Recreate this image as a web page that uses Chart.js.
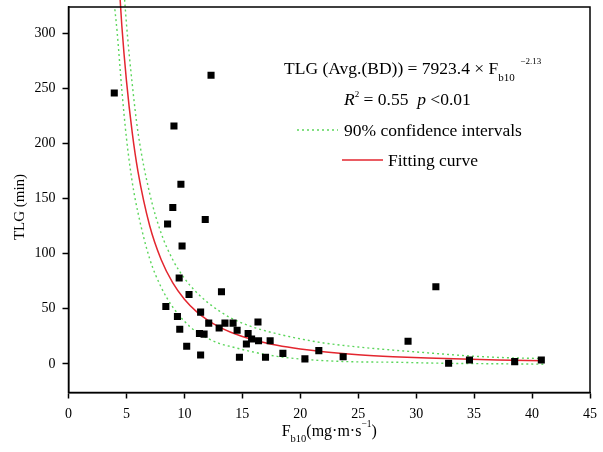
<!DOCTYPE html>
<html>
<head>
<meta charset="utf-8">
<script src="https://cdn.jsdelivr.net/npm/chart.js@4"></script>
<style>
  html, body { margin:0; padding:0; background:#fff; }
  #wrap { width:603px; height:452px; position:relative; }
</style>
</head>
<body>
<div id="wrap"><canvas id="chart"></canvas></div>
<script>
(function(){

  // measured points: F_b10 (mg·m·s^-1) vs TLG (min)
  const fbX = [3.95, 12.3, 9.1, 9.7, 9.0, 8.55, 11.8, 9.8, 9.55, 10.4, 13.2, 8.4, 11.4, 9.4, 12.1, 13.5, 14.2, 13.0, 14.55, 9.6, 11.3, 11.7, 10.2, 11.4, 14.75, 16.35, 15.5, 15.8, 15.35, 16.4, 17.4, 17.0, 18.5, 20.4, 21.6, 23.7, 29.3, 31.7, 32.8, 34.6, 38.5, 40.8];
  const tlgY = [246, 262, 216, 163, 142, 127, 131, 107, 78, 63, 65.5, 52, 47, 43, 37, 37, 37, 32.5, 30.5, 31.5, 27.5, 27, 16, 8, 6, 38, 27.5, 22.5, 18, 21, 21, 6, 9.5, 4.5, 12, 6.5, 20.5, 70, 0.5, 3.5, 2, 3.5];

  // fitting curve and 90% confidence band, read along the x axis
  const curveX = [4.0, 4.2, 4.6, 5, 5.5, 6, 7, 8, 9, 10, 11, 12, 13, 14, 16, 18, 20, 22, 25, 28, 31, 34, 37, 41];
  const fitY   = [413.6, 372.7, 307.2, 257.1, 209.9, 174.3, 125.6, 94.5, 73.5, 58.7, 47.9, 39.8, 33.6, 28.7, 21.6, 16.8, 13.4, 10.95, 8.34, 6.55, 5.28, 4.33, 3.62, 2.91];
  const upperY = [494, 447, 369, 309, 254, 210, 155, 118.5, 94.5, 77.7, 65.4, 55.8, 48.1, 41.7, 33.1, 27.3, 22.7, 19, 15.3, 12.5, 10, 7.6, 5.9, 4.8];
  const lowerY = [322, 301, 249, 205, 165, 137, 95.6, 69.5, 51.5, 38.7, 29.4, 23.3, 18.6, 15.7, 10.6, 6.8, 4.4, 2.9, 1.8, 1.5, 0.8, 0.3, 0.1, -0.3];

  const xTicks = [0, 5, 10, 15, 20, 25, 30, 35, 40, 45];
  const yTicks = [0, 50, 100, 150, 200, 250, 300];

  const SERIF = '"Liberation Serif", "Times New Roman", serif';
  const RED = '#e3262f';
  const GREEN = '#5cd65c';

  const pts = (xs, ys) => xs.map((x, i) => ({ x: x, y: ys[i] }));

  // draws a run of text pieces: [text, size, dy, italic]
  function drawRun(ctx, x, y, parts){
    parts.forEach(p => {
      ctx.font = (p[3] ? 'italic ' : '') + p[1] + 'px ' + SERIF;
      ctx.fillText(p[0], x, y + p[2]);
      x += ctx.measureText(p[0]).width;
    });
    return x;
  }

  const annot = {
    id:'annot',
    afterDraw(chart){
      const ctx = chart.ctx;
      const a = chart.chartArea;
      ctx.save();
      ctx.strokeStyle = '#000';
      ctx.lineWidth = 1.5;
      ctx.strokeRect(a.left, a.top, a.right - a.left, a.bottom - a.top);

      ctx.fillStyle = '#000';
      ctx.textBaseline = 'alphabetic';
      ctx.textAlign = 'left';

      // equation
      drawRun(ctx, 284, 74, [
        ['TLG (Avg.(BD)) = 7923.4 \u00d7 F', 17.5, 0],
        ['b10', 11, 7],
        ['  ', 11, 0],
        ['\u22122.13', 9, -10]
      ]);
      drawRun(ctx, 344, 105, [
        ['R', 17.5, 0, true],
        ['2', 9, -8],
        [' = 0.55  ', 17.5, 0],
        ['p', 17.5, 0, true],
        [' <0.01', 17.5, 0]
      ]);

      // legend samples
      ctx.strokeStyle = GREEN;
      ctx.lineWidth = 1.4;
      ctx.setLineDash([2, 3]);
      ctx.beginPath(); ctx.moveTo(297, 130); ctx.lineTo(338, 130); ctx.stroke();
      ctx.setLineDash([]);
      ctx.strokeStyle = RED;
      ctx.beginPath(); ctx.moveTo(342, 160); ctx.lineTo(383, 160); ctx.stroke();
      drawRun(ctx, 344, 136, [['90% confidence intervals', 17.5, 0]]);
      drawRun(ctx, 388, 166, [['Fitting curve', 17.5, 0]]);

      // x title with sub/superscript
      const parts = [['F', 16, 0], ['b10', 10.5, 6], ['(mg\u00b7m\u00b7s', 16, 0], ['\u22121', 9.5, -9], [')', 16, 0]];
      let w = 0;
      parts.forEach(p => { ctx.font = p[1] + 'px ' + SERIF; w += ctx.measureText(p[0]).width; });
      drawRun(ctx, (a.left + a.right) / 2 - w / 2, 436, parts);

      // y title
      ctx.translate(20, 207);
      ctx.rotate(-Math.PI / 2);
      ctx.textAlign = 'center';
      ctx.textBaseline = 'middle';
      ctx.font = '15px ' + SERIF;
      ctx.fillText('TLG (min)', 0, 0);
      ctx.restore();
    }
  };

  const lineDs = (label, ys, color, dash) => ({
    type:'line',
    label: label,
    data: pts(curveX, ys),
    borderColor: color,
    borderWidth: dash ? 1.4 : 1.5,
    borderDash: dash || [],
    pointRadius: 0,
    fill: false,
    cubicInterpolationMode: 'monotone',
    clip: false
  });

  new Chart(document.getElementById('chart'), {
    type:'scatter',
    data:{
      datasets:[{
        label:'TLG',
        data: pts(fbX, tlgY),
        pointStyle:'rect',
        pointRadius: 5,
        pointBackgroundColor:'#000',
        pointBorderColor:'#000',
        pointBorderWidth: 0
      },
      lineDs('Fitting curve', fitY, RED),
      lineDs('upper', upperY, GREEN, [2, 3]),
      lineDs('lower', lowerY, GREEN, [2, 3])
      ]
    },
    options:{
      responsive:true, maintainAspectRatio:false, animation:false,
      layout:{ padding:{ top:7, right:13, left:0, bottom:0 } },
      plugins:{ legend:{ display:false }, tooltip:{ enabled:false } },
      scales:{
        x:{
          type:'linear', min:0, max:45,
          afterBuildTicks: s => { s.ticks = xTicks.map(v => ({ value:v })); },
          afterFit: s => { s.height = 59.5; s.paddingLeft = 0; s.paddingRight = 0; },
          grid:{ drawOnChartArea:false, drawTicks:true, tickLength:6, tickColor:'#000', tickWidth:1.5 },
          border:{ display:true, color:'#000', width:1.5 },
          ticks:{ font:{ family:SERIF, size:14 }, color:'#000', padding:7, maxRotation:0, autoSkip:false }
        },
        y:{
          type:'linear', min:-26, max:324,
          afterBuildTicks: s => { s.ticks = yTicks.map(v => ({ value:v })); },
          afterFit: s => { s.width = 68.5; s.paddingTop = 0; s.paddingBottom = 0; },
          grid:{ drawOnChartArea:false, drawTicks:true, tickLength:6, tickColor:'#000', tickWidth:1.5 },
          border:{ display:true, color:'#000', width:1.5 },
          ticks:{ font:{ family:SERIF, size:14 }, color:'#000', padding:7 }
        }
      }
    },
    plugins:[annot]
  });

})();
</script>
</body>
</html>
